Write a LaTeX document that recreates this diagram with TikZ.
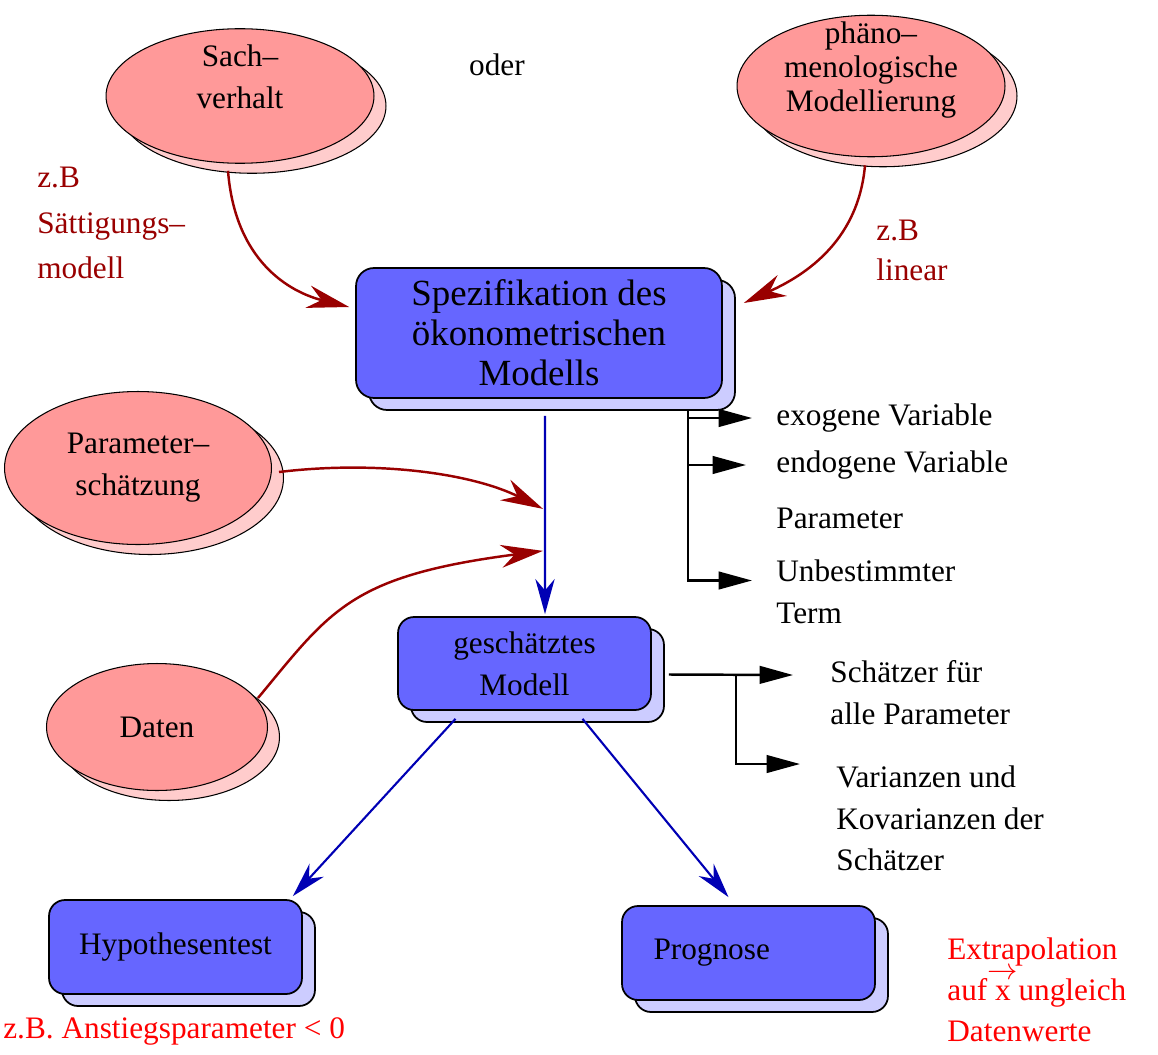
\documentclass[tikz,border=0pt]{standalone}
\usepackage{fontspec}
\setmainfont{Liberation Serif}
\usetikzlibrary{shapes.geometric,shadows,arrows.meta,calc}
\definecolor{lachs}{HTML}{FF9999}
\definecolor{lachshell}{HTML}{FFCCCC}
\definecolor{blaubox}{HTML}{6666FF}
\definecolor{blauhell}{HTML}{CCCCFF}
\definecolor{dunkelrot}{HTML}{990000}
\definecolor{pfeilblau}{HTML}{0000B4}
\newcommand{\pfeilx}{x\llap{\makebox[0.5em][c]{\raisebox{0.68em}{$\rightarrow$}}}}
\begin{document}
\begin{tikzpicture}[
		x=0.02cm, y=-0.02cm,
		every node/.style={font=\fontsize{17.8}{23.8}\selectfont},
		wolke/.style={ellipse, draw, line width=0.6pt, fill=lachs, inner sep=0pt, align=center,
			copy shadow={shadow xshift=0.24cm, shadow yshift=-0.2cm, fill=lachshell, draw=black, line width=0.6pt}},
		kasten/.style={rectangle, rounded corners=0.32cm, draw, line width=1pt, fill=blaubox, align=center,
			minimum width=5.06cm, minimum height=1.88cm,
			copy shadow={shadow xshift=0.26cm, shadow yshift=-0.24cm, fill=blauhell, draw=black, line width=1pt}},
		rotpfeil/.style={draw=dunkelrot, line width=1.4pt, -{Stealth[length=24pt,width=13pt]}},
		blaupfeil/.style={draw=pfeilblau, line width=1.2pt, -{Stealth[length=20pt,width=11pt]}},
		schwarzpfeil/.style={draw=black, line width=1.4pt, -{Triangle[length=19pt,width=10pt]}},
		liste/.style={align=left, anchor=west, inner sep=0pt},
		anmerkung/.style={liste, text=dunkelrot},
		hinweis/.style={liste, text=red}
	]
	\useasboundingbox (0,0) rectangle (1158,1054);

	\node[wolke, minimum width=5.36cm, minimum height=2.64cm, text depth=22pt, inner ysep=-2pt] (sach) at (240,96) {Sach–\\verhalt};
	\node[wolke, minimum width=5.36cm, minimum height=2.74cm, text depth=22pt, inner ysep=-8pt,
		font=\fontsize{17.8}{19.3}\selectfont] (phaeno) at (871,86) {phäno–\\menologische\\Modellierung};
	\node[wolke, minimum width=5.34cm, minimum height=3.06cm] (param) at (138,468) {Parameter–\\schätzung};
	\node[wolke, minimum width=4.42cm, minimum height=2.54cm] (daten) at (157,727) {Daten};
	\node (oder) at (497,65) {oder};

	\node[kasten, minimum width=7.32cm, minimum height=2.6cm, rounded corners=0.36cm,
		font=\fontsize{21}{22.7}\selectfont] (spec) at (539,333) {Spezifikation des\\ökonometrischen\\Modells};
	\node[kasten, minimum height=1.86cm] (gesch) at (524.5,663.5) {geschätztes\\Modell};
	\node[kasten] (hypo) at (175.5,947) {Hypothesentest};
	\node[kasten, text width=3.8cm, align=left] (prog) at (748.5,953) {Prognose};

	\node[anmerkung, font=\fontsize{17.8}{26}\selectfont] (zbsatt) at (37,223) {z.B\\Sättigungs–\\modell};
	\node[anmerkung, font=\fontsize{17.8}{22.7}\selectfont] (zblin) at (876,250) {z.B\\linear};

	\node[liste] (exo) at (776,418) {exogene Variable};
	\node[liste] (endo) at (776,465) {endogene Variable};
	\node[liste] (parliste) at (776,518) {Parameter};
	\node[liste] (unb) at (776,591.5) {Unbestimmter\\Term};
	\node[liste] (schaetz) at (830,692.5) {Schätzer für\\alle Parameter};
	\node[liste, font=\fontsize{17.8}{23.5}\selectfont] (varianz) at (836,818.5) {Varianzen und\\Kovarianzen der\\Schätzer};

	\node[hinweis] (anstieg) at (3,1031) {z.B. Anstiegsparameter < 0};
	\node[hinweis, font=\fontsize{17.8}{23.2}\selectfont] (extra) at (947,990) {Extrapolation\\auf \pfeilx{} ungleich\\Datenwerte};

	\coordinate (m1) at ($(spec.south)+(4,110)$);
	\coordinate (m2) at ($(spec.south)+(4,152)$);
	\coordinate (ecke) at ($(spec.south east)+(-35,12)$);
	\coordinate (abzweig) at ($(gesch.east)+(84,11)$);

	\draw[blaupfeil] ($(spec.south)+(6,17)$) -- ($(gesch.north)+(20.5,-2)$);
	\draw[blaupfeil] ($(gesch.south)+(-69,8)$) -- ($(hypo.north east)+(-10,-3)$);
	\draw[blaupfeil] ($(gesch.south)+(58,8)$) -- ($(prog.north)+(-20,-8)$);

	\draw[rotpfeil] ($(sach.south)+(-12,7)$) .. controls +(7,90) and +(-60,-15) .. ($(spec.west)+(-6,-26)$);
	\draw[rotpfeil] ($(phaeno.south)+(-6,8)$) .. controls +(-7,80) and +(55,-25) .. ($(spec.east)+(21,-30)$);
	\draw[rotpfeil] ($(param.east)+(7,4)$) .. controls +(100,-12) and +(-70,-35) .. (m1);
	\draw[rotpfeil] ($(daten.east)+(-10,-29)$) .. controls +(73,-88) and +(-193,25) .. (m2);

	\draw[schwarzpfeil] (ecke) |- ([xshift=-0.48cm,yshift=0.22cm]unb.west);
	\draw[schwarzpfeil] (ecke |- exo.west) -- ([xshift=-0.48cm]exo.west);
	\draw[schwarzpfeil] (ecke |- endo.west) -- ([xshift=-0.6cm]endo.west);
	\draw[schwarzpfeil] ($(gesch.east)+(17,11)$) -- ([xshift=-0.74cm,yshift=0.35cm]schaetz.west);
	\draw[schwarzpfeil] (abzweig) |- ([xshift=-0.72cm,yshift=1.09cm]varianz.west);
\end{tikzpicture}
\end{document}
